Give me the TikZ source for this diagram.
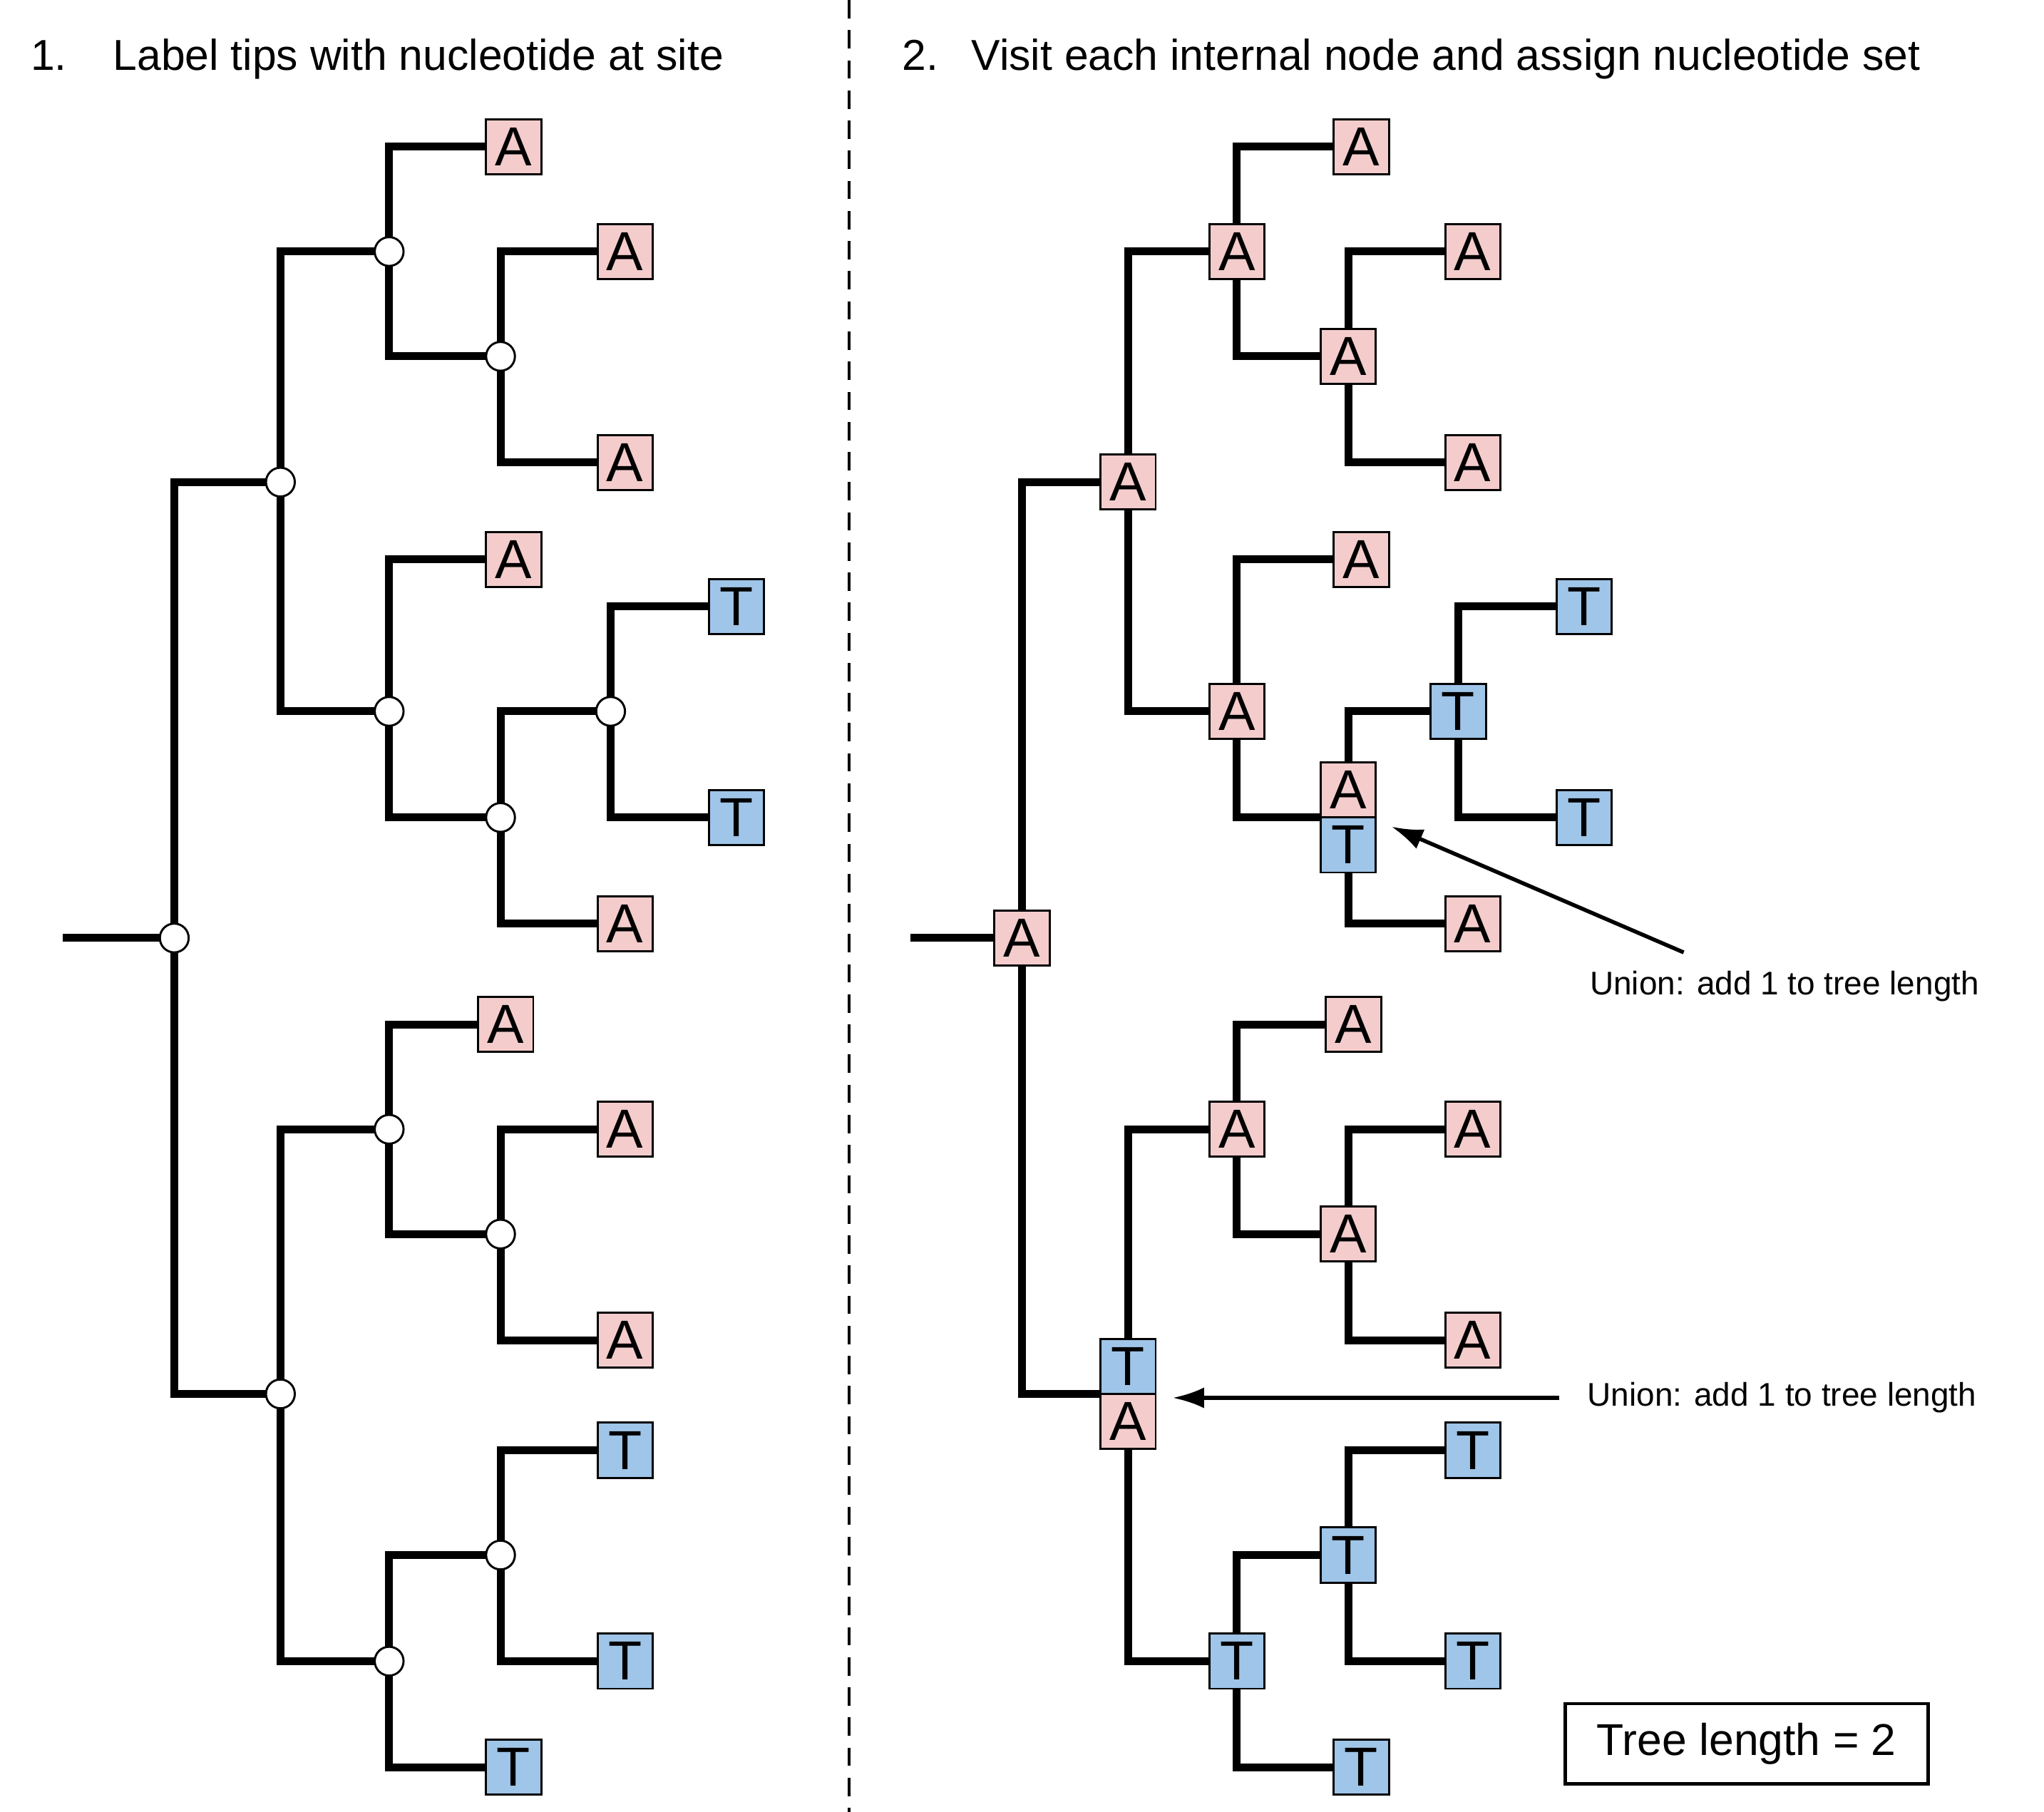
\documentclass[tikz,border=0pt]{standalone}
\usepackage{fontspec}
\setmainfont{Liberation Sans}
\usetikzlibrary{arrows.meta}
\definecolor{pinkc}{HTML}{F4CCCC}
\definecolor{bluec}{HTML}{9FC5E8}
\begin{document}
\begin{tikzpicture}[x=1pt,y=-1pt,
  edge/.style={line width=6pt,line join=miter},
  circ/.style={circle,draw,fill=white,line width=1.6pt,minimum size=22pt,inner sep=0pt},
  boxbase/.style={draw,line width=1.6pt,minimum width=42pt,minimum height=42pt,inner sep=0pt,font=\fontsize{42}{42}\selectfont},
  boxA/.style={boxbase,fill=pinkc},
  boxT/.style={boxbase,fill=bluec},
  title/.style={anchor=west,font=\fontsize{33}{36}\selectfont},
  note/.style={font=\fontsize{25}{28}\selectfont}]
\useasboundingbox (0,0) rectangle (1560,1383);
\foreach \pre/\dx in {L/0,R/647}{
  \foreach \n/\x/\y in {0/133/716,1/214/368,2/297/192,3/382/272,4/297/543,5/382/624,6/466/543,7/214/1064,8/297/862,9/382/942,10/297/1268,11/382/1187}
    \coordinate (\pre\n) at ({\x+\dx},\y);
  \foreach \n/\x/\y/\l in {a1/392/112/A,a2/477/192/A,a3/477/353/A,a4/392/427/A,a5/562/463/T,a6/562/624/T,a7/477/705/A,a8/386/782/A,a9/477/862/A,a10/477/1023/A,a11/477/1107/T,a12/477/1268/T,a13/392/1349/T}
    \node[box\l] (\pre\n) at ({\x+\dx},\y) {\l};
  \coordinate (\pre stem) at ({48+\dx},716);
  \draw[edge] (\pre stem) -- (\pre0);
  \foreach \p/\c in {0/1,0/7,1/2,1/4,2/3,4/5,5/6,7/8,7/10,8/9,10/11}
    \draw[edge] (\pre\p) |- (\pre\c);
  \foreach \p/\c in {2/a1,3/a2,3/a3,4/a4,5/a7,6/a5,6/a6,8/a8,9/a9,9/a10,10/a13,11/a11,11/a12}
    \draw[edge] (\pre\p) |- (\pre\c.west);
}
\foreach \n in {0,...,11} \node[circ] (c\n) at (L\n) {};
\foreach \n/\l in {0/A,1/A,2/A,3/A,4/A,6/T,8/A,9/A,10/T,11/T}
  \node[box\l] (b\n) at (R\n) {\l};
\node[boxT] (b5t) at ([yshift=-21pt]R5) {T};
\node[boxA] (b5a) at ([yshift=21pt]R5) {A};
\node[boxA] (b7a) at ([yshift=-21pt]R7) {A};
\node[boxT] (b7t) at ([yshift=21pt]R7) {T};
\draw[line width=2.5pt,dash pattern=on 14pt off 9pt] (648,0) -- (648,1383);
\node[title] (t1) at (20,45) {1.\hspace{0.7em} Label tips with nucleotide at site};
\node[title] (t2) at (685,45) {2.\hspace{0.4em} Visit each internal node and assign nucleotide set};
\node[note] (u1) at (1362,753) {Union: add 1 to tree length};
\node[note] (u2) at (1360,1067) {Union: add 1 to tree length};
\coordinate (u1s) at (1285,727);
\coordinate (u1e) at (1062,631);
\coordinate (u2s) at (1190,1067);
\coordinate (u2e) at (895,1067);
\draw[line width=3pt,-{Latex[length=24pt,width=16pt]}] (u1s) -- (u1e);
\draw[line width=3pt,-{Latex[length=24pt,width=16pt]}] (u2s) -- (u2e);
\node[draw,line width=2.5pt,minimum width=277pt,minimum height=61pt,font=\fontsize{34}{36}\selectfont] (tl) at (1333,1331) {Tree length = 2};
\end{tikzpicture}
\end{document}
